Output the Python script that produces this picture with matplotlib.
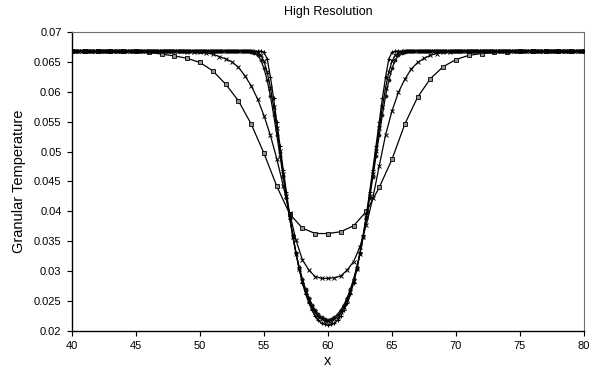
import numpy as np
import matplotlib
matplotlib.use("Agg")
import matplotlib.pyplot as plt
from matplotlib.ticker import FuncFormatter, MultipleLocator

plt.rcParams["font.family"] = ["Liberation Sans", "DejaVu Sans"]

# ----------------------------------------------------------------------
# data: granular temperature profiles across the dip at x = 60
# ----------------------------------------------------------------------
T_FAR = 0.0668  # undisturbed level far from the dip

# coarse run, one sample per unit
x_coarse = np.arange(40, 81)
t_coarse = [T_FAR] * 6 + [
    0.0666, 0.0663, 0.0660, 0.0656, 0.0649, 0.0635, 0.0613, 0.0585,
    0.0546, 0.0497, 0.0442, 0.0396, 0.0372, 0.0363, 0.0363, 0.0366,
    0.0376, 0.0400, 0.0440, 0.0487, 0.0546, 0.0591, 0.0622, 0.0642,
    0.0654, 0.0661, 0.0664, 0.0666, 0.0667,
] + [T_FAR] * 6

# medium run, two samples per unit
x_medium = np.linspace(40, 80, 81)
t_medium = [T_FAR] * 18 + [
    0.0667, 0.0667, 0.0666, 0.0665, 0.0663, 0.0659, 0.0655, 0.0650,
    0.0641, 0.0627, 0.0610, 0.0588, 0.0560, 0.0527, 0.0488, 0.0443,
    0.0397, 0.0352, 0.0319, 0.0302, 0.0291, 0.0288, 0.0288, 0.0289,
    0.0292, 0.0302, 0.0316, 0.0341, 0.0378, 0.0422, 0.0476, 0.0528,
    0.0568, 0.0599, 0.0621, 0.0638, 0.0649, 0.0656, 0.0661, 0.0664,
    0.0666, 0.0667,
] + [T_FAR] * 21

# fine runs, four samples per unit; dip listed from x = 54 to x = 66
x_fine = np.linspace(40, 80, 161)
dip_fine_a = [
    0.0668, 0.0668, 0.0668, 0.0668, 0.0666, 0.0655, 0.0625, 0.0589,
    0.0550, 0.0510, 0.0470, 0.0432, 0.0395, 0.0361, 0.0330, 0.0303,
    0.0280, 0.0262, 0.0247, 0.0235, 0.0225, 0.0218, 0.0213, 0.0211,
    0.0210,
    0.0211, 0.0213, 0.0218, 0.0225, 0.0235, 0.0247, 0.0262, 0.0280,
    0.0303, 0.0330, 0.0361, 0.0395, 0.0432, 0.0470, 0.0510, 0.0550,
    0.0589, 0.0625, 0.0655, 0.0666, 0.0668, 0.0668, 0.0668, 0.0668,
]
dip_fine_b = [
    0.0668, 0.0667, 0.0665, 0.0661, 0.0651, 0.0633, 0.0607, 0.0575,
    0.0539, 0.0501, 0.0463, 0.0426, 0.0391, 0.0358, 0.0329, 0.0304,
    0.0283, 0.0266, 0.0252, 0.0240, 0.0231, 0.0224, 0.0220, 0.0217,
    0.0216,
    0.0217, 0.0220, 0.0224, 0.0231, 0.0240, 0.0252, 0.0266, 0.0283,
    0.0304, 0.0329, 0.0358, 0.0391, 0.0426, 0.0463, 0.0501, 0.0539,
    0.0575, 0.0607, 0.0633, 0.0651, 0.0661, 0.0665, 0.0667, 0.0668,
]
dip_fine_c = [
    0.0667, 0.0665, 0.0661, 0.0653, 0.0639, 0.0619, 0.0593, 0.0562,
    0.0528, 0.0493, 0.0457, 0.0422, 0.0389, 0.0358, 0.0331, 0.0307,
    0.0287, 0.0270, 0.0256, 0.0244, 0.0235, 0.0228, 0.0223, 0.0220,
    0.0219,
    0.0220, 0.0223, 0.0228, 0.0235, 0.0244, 0.0256, 0.0270, 0.0287,
    0.0307, 0.0331, 0.0358, 0.0389, 0.0422, 0.0457, 0.0493, 0.0528,
    0.0562, 0.0593, 0.0619, 0.0639, 0.0653, 0.0661, 0.0665, 0.0667,
]
t_fine_a = [T_FAR] * 56 + dip_fine_a + [T_FAR] * 56
t_fine_b = [T_FAR] * 56 + dip_fine_b + [T_FAR] * 56
t_fine_c = [T_FAR] * 56 + dip_fine_c + [T_FAR] * 56

# ----------------------------------------------------------------------
# figure
# ----------------------------------------------------------------------
fig = plt.figure(figsize=(6.04, 3.76), dpi=100)
ax = fig.add_axes([0.1192, 0.1197, 0.8477, 0.7952])

line_kw = dict(color="black", lw=0.9)
ax.plot(x_coarse, t_coarse, marker="s", ms=2.8, mfc="#909090",
        mec="black", mew=0.6, zorder=2, **line_kw)
ax.plot(x_medium, t_medium, marker="x", ms=3.5, mew=0.7, zorder=3,
        **line_kw)
ax.plot(x_fine, t_fine_c, marker=".", ms=3.5, mec="#222222", zorder=4,
        **line_kw)
ax.plot(x_fine, t_fine_b, marker="x", ms=2.5, mew=0.7, zorder=4,
        **line_kw)
ax.plot(x_fine, t_fine_a, marker="+", ms=3.5, mew=0.8, zorder=5,
        **line_kw)

ax.set_xlim(40, 80)
ax.set_ylim(0.02, 0.07)
ax.xaxis.set_major_locator(MultipleLocator(5))
ax.yaxis.set_major_locator(MultipleLocator(0.005))
ax.yaxis.set_major_formatter(FuncFormatter(lambda v, _: f"{v:g}"))
ax.tick_params(direction="out", length=3.5, width=0.8, labelsize=8,
               top=False, right=False, pad=4)

for side in ("left", "bottom"):
    ax.spines[side].set_linewidth(1.0)
    ax.spines[side].set_color("black")
for side in ("top", "right"):
    ax.spines[side].set_linewidth(0.8)
    ax.spines[side].set_color("#707070")

ax.set_title("High Resolution", fontsize=9, pad=12)
ax.set_xlabel("x", fontsize=10.5, labelpad=2)
ax.set_ylabel("Granular Temperature", fontsize=10.5, labelpad=6)

fig.savefig("out.png", dpi=100)
